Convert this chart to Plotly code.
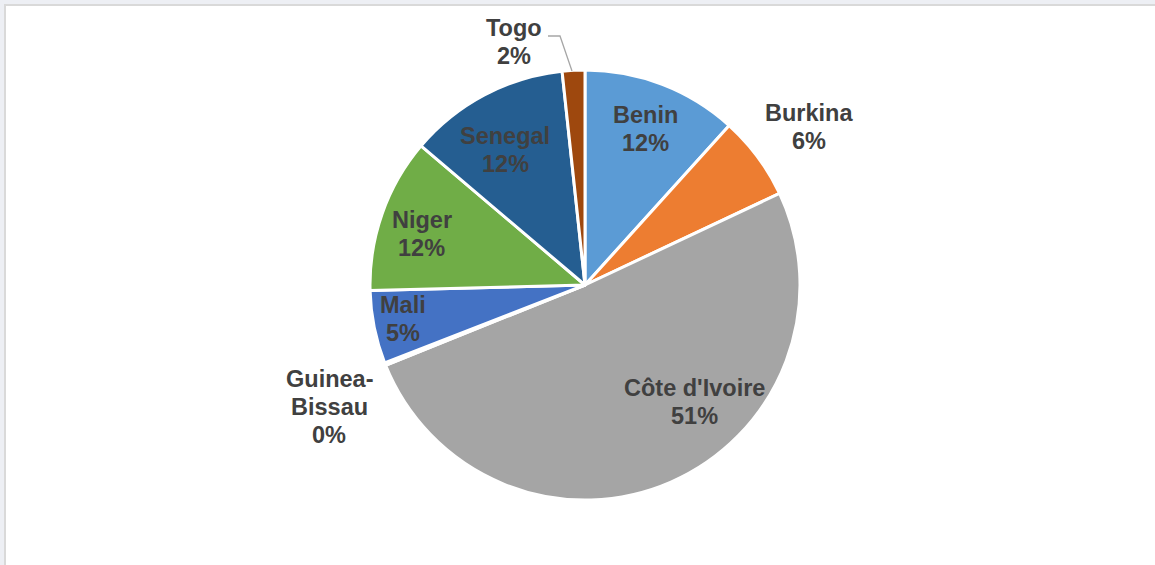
import plotly.graph_objects as go

W, H = 1155, 565

countries = ["Benin", "Burkina", "Côte d'Ivoire", "Guinea-Bissau", "Mali", "Niger", "Senegal", "Togo"]
shares = [11.7, 6.3, 50.9, 0.2, 5.5, 11.6, 12.1, 1.7]
pct_labels = ["12%", "6%", "51%", "0%", "5%", "12%", "12%", "2%"]
name_lines = [["Benin"], ["Burkina"], ["Côte d'Ivoire"], ["Guinea-", "Bissau"], ["Mali"], ["Niger"], ["Senegal"], ["Togo"]]
colors = ["#5B9BD5", "#ED7D31", "#A5A5A5", "#FFC000", "#4472C4", "#70AD47", "#255E91", "#9E480E"]

# label block centres (px, top-left origin), Excel "best fit" placement
label_xy = [(645, 129), (809, 127), (694, 402), (329, 407), (403, 319), (422, 234), (505, 150), (514, 42)]

CX, CY, R = 585, 285, 215
LINE = 28
TEXT = "#404040"
FONT = "Liberation Sans, Arial, sans-serif"


def px(x, y):
    return x / W, 1 - y / H


fig = go.Figure(go.Pie(
    labels=countries, values=shares, sort=False, direction="clockwise", rotation=0,
    marker=dict(colors=colors, line=dict(color="white", width=3)),
    textinfo="none", hoverinfo="label+percent", showlegend=False,
    domain=dict(x=[(CX - R) / W, (CX + R) / W], y=[1 - (CY + R) / H, 1 - (CY - R) / H]),
))

annotations = []
for lines, pct, (lx, ly) in zip(name_lines, pct_labels, label_xy):
    rows = lines + [pct]
    y0 = ly - LINE * (len(rows) - 1) / 2
    for i, row in enumerate(rows):
        ax, ay = px(lx, y0 + i * LINE)
        annotations.append(dict(
            x=ax, y=ay, xref="paper", yref="paper", text=f"<b>{row}</b>", showarrow=False,
            xanchor="center", yanchor="middle",
            font=dict(family=FONT, size=23.5, color=TEXT),
        ))

# Togo leader line
p1, p2, p3 = px(548, 36), px(560, 36), px(572, 71)
shapes = [
    dict(type="rect", xref="paper", yref="paper", x0=5 / W, y0=-0.05, x1=1.05, y1=1 - 5 / H,
         fillcolor="white", line=dict(color="#D9D9D9", width=2), layer="below"),
    dict(type="path", xref="paper", yref="paper",
         path=f"M {p1[0]} {p1[1]} L {p2[0]} {p2[1]} L {p3[0]} {p3[1]}",
         line=dict(color="#A6A6A6", width=1.3)),
]

fig.update_layout(
    width=W, height=H,
    margin=dict(l=0, r=0, t=0, b=0),
    paper_bgcolor="#EDEFF4",
    plot_bgcolor="white",
    annotations=annotations,
    shapes=shapes,
)

# drop the browser's default body margin so the figure sits at (0, 0)
fig.write_html(
    "out.html",
    config={"displayModeBar": False},
    post_script="document.body.style.margin='0';document.body.style.overflow='hidden';",
)
